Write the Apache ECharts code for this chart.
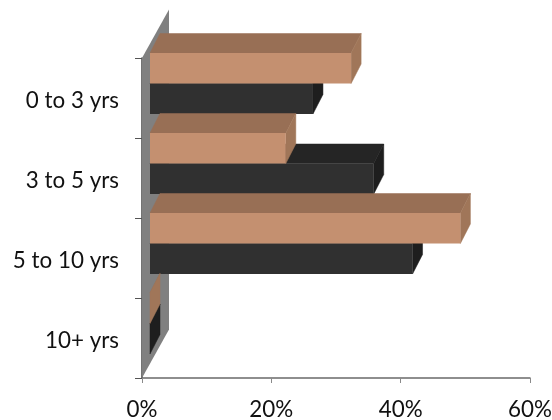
<!DOCTYPE html>
<html><head><meta charset="utf-8">
<style>html,body{margin:0;padding:0;background:#fff}#c{width:552px;height:420px}</style>
<script src="https://cdn.jsdelivr.net/npm/echarts@6/dist/echarts.min.js"></script>
</head><body><div id="c"></div>
<script>
const categories = ['0 to 3 yrs','3 to 5 yrs','5 to 10 yrs','10+ yrs'];
const tanValues = [31.1, 21.0, 48.0, 0];
const darkValues = [25.2, 34.6, 40.6, 0];
const xTicks = {min:0,max:60,interval:20};

const FRONT=[8,-14.5], DEPTH=[10,-19.5], BAR=30.5/80;
function barRender(colors, sign){
  return function(params, api){
    const idx=api.value(1);
    const band=api.size([0,1])[1];
    const h=band*BAR;
    const c0=api.coord([0,idx]), c1=api.coord([api.value(0),idx]);
    const x0=c0[0]+FRONT[0], x1=c1[0]+FRONT[0];
    const mid=c0[1]+FRONT[1];
    const y0=sign<0?mid-h:mid, y1=sign<0?mid:mid+h;
    const dx=DEPTH[0], dy=DEPTH[1];
    const poly=(pts,fill)=>({type:'polygon',shape:{points:pts},style:{fill:fill,stroke:fill,lineWidth:0.5}});
    return {type:'group',children:[
      poly([[x0,y0],[x0+dx,y0+dy],[x1+dx,y0+dy],[x1,y0]],colors.top),
      poly([[x1,y0],[x1+dx,y0+dy],[x1+dx,y1+dy],[x1,y1]],colors.side),
      {type:'rect',shape:{x:x0,y:y0,width:x1-x0,height:y1-y0},style:{fill:colors.front}}
    ]};
  };
}
const chart=echarts.init(document.getElementById('c'),null,{renderer:'canvas'});
chart.setOption({
  animation:false,
  backgroundColor:'#fff',
  grid:{left:142,top:58,width:388,height:320,containLabel:false,outerBoundsMode:'none'},
  xAxis:{type:'value',min:xTicks.min,max:xTicks.max,interval:xTicks.interval,position:'bottom',
    splitLine:{show:false},
    axisLine:{show:true,onZero:false,lineStyle:{color:'#6a6a6a',width:1.5}},
    axisTick:{show:true,length:5,lineStyle:{color:'#8a8a8a',width:1}},
    axisLabel:{formatter:'{value}%',fontFamily:'Lato',fontSize:22.4,color:'#111',margin:21,showMaxLabel:true,hideOverlap:false}},
  yAxis:{type:'category',inverse:true,data:categories,
    axisLine:{show:true,onZero:false,lineStyle:{color:'#444',width:1.5}},
    axisTick:{show:true,length:7,alignWithLabel:false,lineStyle:{color:'#555',width:1}},
    axisLabel:{fontFamily:'Lato',fontSize:22.4,color:'#111',margin:23,verticalAlign:'top',lineHeight:6}},
  series:[
    {type:'custom',coordinateSystem:'cartesian2d',z:1,silent:true,data:[[0,0]],encode:{x:0,y:1},
     renderItem:function(params,api){
       const s=params.coordSys, dx=27, dy=-48.5;
       const l=s.x, t=s.y, b=s.y+s.height;
       return {type:'polygon',shape:{points:[[l,t],[l+dx,t+dy],[l+dx,b+dy],[l,b]]},
         style:{fill:'#808080'}};
     }},
    {type:'custom',coordinateSystem:'cartesian2d',z:2,silent:true,encode:{x:0,y:1},
     data:darkValues.map((v,i)=>[v,i]),
     renderItem:barRender({front:'#303030',top:'#252525',side:'#1e1e1e'},1)},
    {type:'custom',coordinateSystem:'cartesian2d',z:3,silent:true,encode:{x:0,y:1},
     data:tanValues.map((v,i)=>[v,i]),
     renderItem:barRender({front:'#c49070',top:'#986f55',side:'#a07659'},-1)}
  ]
});
</script></body></html>
